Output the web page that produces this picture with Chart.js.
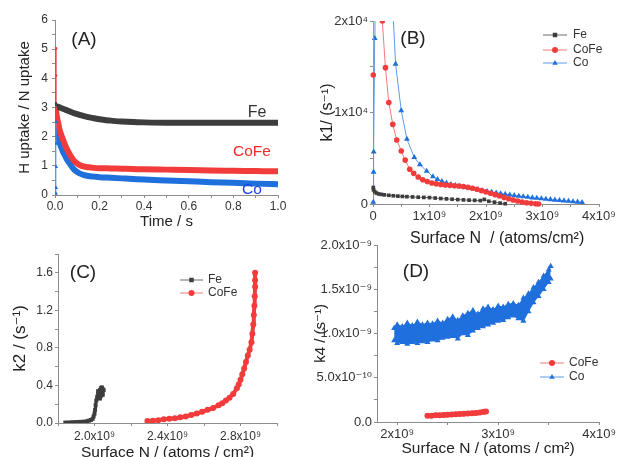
<!DOCTYPE html>
<html>
<head>
<meta charset="utf-8">
<script src="https://cdn.jsdelivr.net/npm/chart.js@4/dist/chart.umd.min.js"></script>
<style>
html, body { margin: 0; padding: 0; background: #fff; overflow: hidden; }
#wrap { position: relative; width: 618px; height: 457px; overflow: hidden; }
canvas { position: absolute; left: 0; top: 0; }
</style>
</head>
<body>
<div id="wrap">
  <canvas id="chartA" width="618" height="480"></canvas>
  <canvas id="chartB" width="618" height="480"></canvas>
  <canvas id="chartC" width="618" height="480"></canvas>
  <canvas id="chartD" width="618" height="480"></canvas>
</div>
<script>
// ---- (A) H uptake / N uptake vs time ----
var aTime  = [0.004, 0.007, 0.015, 0.022, 0.035, 0.045, 0.055, 0.067, 0.08, 0.097, 0.11, 0.127, 0.15, 0.175, 0.2, 0.25, 0.3, 0.35, 0.4, 0.5, 0.6, 0.7, 0.8, 0.9, 1.0];
var aFe    = [3.05, 3.04, 3.02, 3.0, 2.96, 2.93, 2.9, 2.86, 2.82, 2.78, 2.75, 2.71, 2.67, 2.63, 2.6, 2.55, 2.52, 2.5, 2.49, 2.48, 2.48, 2.48, 2.48, 2.48, 2.48];
var aCoFe  = [2.97, 2.75, 2.45, 2.2, 1.92, 1.72, 1.55, 1.38, 1.22, 1.09, 1.03, 0.98, 0.95, 0.93, 0.92, 0.91, 0.9, 0.89, 0.88, 0.87, 0.86, 0.84, 0.83, 0.82, 0.81];
var aCo    = [2.51, 2.2, 1.95, 1.75, 1.5, 1.35, 1.2, 1.07, 0.92, 0.8, 0.74, 0.69, 0.65, 0.63, 0.61, 0.59, 0.57, 0.55, 0.53, 0.5, 0.47, 0.44, 0.42, 0.39, 0.37];
// first points at t ~ 0
var aFeSpikeT = [0.004, 0.004];
var aFeSpike  = [3.05, 3.19];
var aCoFeSpikeT = [0.004, 0.004, 0.004];
var aCoFeSpike  = [2.97, 4.1, 5.03];
var aCoSpikeT = [0.004, 0.004, 0.004, 0.004, 0.004];
var aCoSpike  = [0.05, 0.25, 0.97, 1.77, 2.51];
var aXTicks = [0, 0.1, 0.2, 0.3, 0.4, 0.5, 0.6, 0.7, 0.8, 0.9, 1.0];
var aXLabels = ['0.0', '', '0.2', '', '0.4', '', '0.6', '', '0.8', '', '1.0'];
var aYTicks = [0, 0.5, 1, 1.5, 2, 2.5, 3, 3.5, 4, 4.5, 5, 5.5, 6];
var aYLabels = ['0', '', '1', '', '2', '', '3', '', '4', '', '5', '', '6'];

// ---- (B) k1 vs surface N (x in 10^9 atoms/cm2) ----
var bFeX = [0.005, 0.01, 0.03, 0.06, 0.1, 0.15, 0.2, 0.28, 0.36, 0.44, 0.52, 0.6, 0.7, 0.8, 0.9, 1.0, 1.1, 1.2, 1.3, 1.4, 1.5, 1.6, 1.7, 1.8, 1.9, 1.97, 2.05, 2.15, 2.25, 2.34];
var bFeY = [1800, 1550, 1350, 1200, 1100, 1050, 1000, 950, 900, 860, 830, 800, 770, 740, 720, 700, 650, 600, 560, 520, 480, 450, 420, 400, 370, 500, 300, 200, 100, 30];
var bCoFeX = [0.005, 0.01, 0.15, 0.165, 0.22, 0.28, 0.35, 0.42, 0.5, 0.57, 0.65, 0.72, 0.8, 0.88, 0.96, 1.04, 1.12, 1.2, 1.28, 1.36, 1.44, 1.52, 1.6, 1.68, 1.76, 1.84, 1.92, 2.0, 2.08, 2.16, 2.24, 2.32, 2.4, 2.48, 2.56, 2.64, 2.72, 2.8, 2.88, 2.93];
var bCoFeY = [14100, 40000, 25000, 20000, 14900, 11100, 8700, 7000, 5800, 4800, 3800, 3350, 2950, 2650, 2450, 2300, 2200, 2130, 2080, 2040, 2000, 1960, 1900, 1820, 1720, 1600, 1460, 1320, 1170, 1020, 870, 720, 570, 440, 320, 210, 130, 70, 25, 0];
var bCoX = [0.005, 0.01, 0.012, 0.03, 0.035, 0.35, 0.4, 0.5, 0.6, 0.73, 0.83, 0.95, 1.06, 1.14, 1.22, 1.3, 1.38, 1.46, 1.54, 1.62, 1.7, 1.78, 1.86, 1.94, 2.02, 2.1, 2.18, 2.26, 2.34, 2.42, 2.5, 2.58, 2.66, 2.74, 2.82, 2.9, 2.98, 3.06, 3.14, 3.22, 3.3, 3.38, 3.46, 3.54, 3.62, 3.7];
var bCoY = [200, 3500, 5700, 18100, 40000, 21500, 15300, 10200, 7100, 5100, 4300, 3600, 3000, 2700, 2480, 2300, 2150, 2030, 1920, 1830, 1740, 1650, 1560, 1470, 1380, 1300, 1220, 1140, 1070, 1000, 930, 870, 810, 750, 690, 640, 590, 540, 490, 440, 400, 360, 320, 270, 220, 180];
var bXTicks = [0, 0.5, 1, 1.5, 2, 2.5, 3, 3.5, 4];
var bXLabels = ['0', '', '1x10⁹', '', '2x10⁹', '', '3x10⁹', '', '4x10⁹'];
var bYTicks = [0, 5000, 10000, 15000, 20000];
var bYLabels = ['0', '', '1x10⁴', '', '2x10⁴'];

// ---- (C) k2 vs surface N (x in 10^9) ----
var cFeX = [1.84, 1.86, 1.88, 1.9, 1.92, 1.94, 1.96, 1.97, 1.98, 1.99, 1.995, 2.0, 2.003, 2.006, 2.01, 2.015, 2.02, 2.025, 2.03, 2.035, 2.04, 2.045, 2.04, 2.03, 2.02, 2.03, 2.045, 2.05, 2.04];
var cFeY = [0.005, 0.006, 0.008, 0.01, 0.012, 0.015, 0.02, 0.025, 0.032, 0.045, 0.07, 0.1, 0.14, 0.19, 0.24, 0.28, 0.31, 0.33, 0.35, 0.37, 0.38, 0.36, 0.32, 0.3, 0.34, 0.26, 0.3, 0.35, 0.37];
var cCoFeX = [2.29, 2.32, 2.35, 2.38, 2.41, 2.44, 2.47, 2.5, 2.53, 2.56, 2.59, 2.62, 2.65, 2.68, 2.7, 2.72, 2.74, 2.76, 2.78, 2.79, 2.8, 2.81, 2.82, 2.83, 2.84, 2.85, 2.86, 2.865, 2.87, 2.873, 2.876, 2.878, 2.88, 2.88, 2.88];
var cCoFeY = [0.02, 0.025, 0.03, 0.04, 0.045, 0.05, 0.06, 0.07, 0.085, 0.1, 0.12, 0.14, 0.16, 0.19, 0.21, 0.24, 0.27, 0.31, 0.37, 0.41, 0.46, 0.52, 0.58, 0.65, 0.72, 0.78, 0.86, 0.95, 1.05, 1.15, 1.25, 1.35, 1.45, 1.52, 1.6];
var cXTicks = [1.8, 2.0, 2.2, 2.4, 2.6, 2.8, 3.0];
var cXLabels = ['', '2.0x10⁹', '', '2.4x10⁹', '', '2.8x10⁹', ''];
var cYTicks = [0, 0.2, 0.4, 0.6, 0.8, 1.0, 1.2, 1.4, 1.6, 1.8];
var cYLabels = ['0.0', '', '0.4', '', '0.8', '', '1.2', '', '1.6', ''];

// ---- (D) k4 vs surface N (x in 10^9, y in 10^-9) ----
var dCoFeX = [2.3, 2.34, 2.38, 2.42, 2.46, 2.5, 2.54, 2.58, 2.62, 2.66, 2.7, 2.74, 2.78, 2.82, 2.86, 2.88];
var dCoFeY = [0.07, 0.072, 0.075, 0.075, 0.08, 0.082, 0.085, 0.088, 0.09, 0.093, 0.097, 0.1, 0.103, 0.107, 0.115, 0.12];
var dCoX = [1.97, 2.0, 2.05, 2.1, 2.15, 2.2, 2.25, 2.3, 2.35, 2.4, 2.45, 2.5, 2.55, 2.6, 2.65, 2.7, 2.75, 2.8, 2.85, 2.9, 2.95, 3.0, 3.05, 3.1, 3.15, 3.2, 3.25, 3.3, 3.35, 3.4, 3.45, 3.5, 3.52];
var dCoHigh = [1.06, 1.10, 1.08, 1.12, 1.09, 1.13, 1.10, 1.12, 1.11, 1.14, 1.12, 1.16, 1.19, 1.15, 1.20, 1.23, 1.26, 1.22, 1.28, 1.30, 1.27, 1.31, 1.30, 1.33, 1.34, 1.32, 1.40, 1.45, 1.52, 1.58, 1.65, 1.72, 1.76];
var dCoLow  = [0.92, 0.89, 0.90, 0.88, 0.90, 0.89, 0.91, 0.90, 0.93, 0.92, 0.95, 0.96, 0.97, 0.94, 1.00, 0.98, 1.03, 1.06, 1.08, 1.10, 1.12, 1.14, 1.15, 1.18, 1.20, 1.17, 1.14, 1.25, 1.35, 1.42, 1.50, 1.58, 1.62];
var dXTicks = [2, 2.5, 3, 3.5, 4];
var dXLabels = ['2x10⁹', '', '3x10⁹', '', '4x10⁹'];
var dYTicks = [0, 0.25, 0.5, 0.75, 1.0, 1.25, 1.5, 1.75, 2.0];
var dYLabels = ['0.0', '', '5.0x10⁻¹⁰', '', '1.0x10⁻⁹', '', '1.5x10⁻⁹', '', '2.0x10⁻⁹'];

var FONT = "'Liberation Sans', Arial, 'DejaVu Sans', sans-serif";
var GRAY = '#3d3d3d', RED = '#f23c3c', BLUE = '#1f6fdd';
var GRAYL = '#6a6a6a', REDL = '#f47a7a', BLUEL = '#5b9be8';
var AXIS = '#8c8c8c', TICK = '#333333';

function pts(xs, ys) {
  return xs.map(function (x, i) { return { x: x, y: ys[i] }; });
}

function makeAxis(o) {
  var left = o.pos === 'left';
  return {
    type: 'linear', position: o.pos, min: o.min, max: o.max,
    afterBuildTicks: function (s) { s.ticks = o.ticks.map(function (v) { return { value: v }; }); },
    afterFit: function (s) { if (left) s.width = o.size; else s.height = o.size; },
    border: { display: true, color: AXIS, width: 1 },
    grid: { display: true, drawOnChartArea: false, drawTicks: true, tickLength: 3, color: AXIS },
    ticks: {
      autoSkip: false, maxRotation: 0, minRotation: 0, padding: o.tickPad, color: TICK,
      font: { family: FONT, size: o.tickSize },
      callback: function (v, i) { return o.labels[i]; }
    },
    title: {
      display: true, text: o.title, color: '#222',
      font: { family: FONT, size: o.titleSize },
      padding: left ? { top: o.titlePad, bottom: 0 } : { top: 0, bottom: o.titlePad }
    }
  };
}

function drawMarker(ctx, style, x, y, r, color) {
  ctx.fillStyle = color;
  ctx.beginPath();
  if (style === 'rect') {
    ctx.rect(x - r * 0.75, y - r * 0.75, r * 1.5, r * 1.5);
  } else if (style === 'triangle') {
    ctx.moveTo(x, y - r);
    ctx.lineTo(x - r * 0.9, y + r * 0.6);
    ctx.lineTo(x + r * 0.9, y + r * 0.6);
    ctx.closePath();
  } else {
    ctx.arc(x, y, r, 0, Math.PI * 2);
  }
  ctx.fill();
}

// draws panel letters, curve names and the small legends
function annot(texts, legend) {
  return {
    id: 'annot',
    afterDraw: function (chart) {
      var ctx = chart.ctx;
      ctx.save();
      texts.forEach(function (t) {
        ctx.font = t.size + 'px ' + FONT;
        ctx.fillStyle = t.color;
        ctx.textAlign = 'center';
        ctx.textBaseline = 'middle';
        ctx.fillText(t.text, t.x, t.y);
      });
      if (legend) {
        legend.items.forEach(function (it) {
          ctx.strokeStyle = it.line;
          ctx.lineWidth = 1;
          ctx.beginPath();
          ctx.moveTo(legend.x1, it.y);
          ctx.lineTo(legend.x2, it.y);
          ctx.stroke();
          drawMarker(ctx, it.style, (legend.x1 + legend.x2) / 2, it.y, 3, it.color);
          ctx.font = '12px ' + FONT;
          ctx.fillStyle = TICK;
          ctx.textAlign = 'left';
          ctx.textBaseline = 'middle';
          ctx.fillText(it.label, legend.tx, it.y);
        });
      }
      ctx.restore();
    }
  };
}

function baseOptions(pad, scales) {
  return {
    responsive: false, animation: false, devicePixelRatio: 1,
    layout: { padding: pad },
    plugins: { legend: { display: false }, tooltip: { enabled: false } },
    scales: scales
  };
}

// ---------- (A) ----------
new Chart(document.getElementById('chartA'), {
  type: 'line',
  data: {
    datasets: [
      { data: pts(aFeSpikeT, aFeSpike), borderColor: GRAY, borderWidth: 2, pointRadius: 0 },
      { data: pts(aCoFeSpikeT, aCoFeSpike), borderColor: RED, borderWidth: 1.5, pointRadius: 1.5, pointBackgroundColor: RED, pointBorderWidth: 0 },
      { data: pts(aCoSpikeT, aCoSpike), borderColor: BLUEL, borderWidth: 1, pointStyle: 'triangle', pointRadius: 2.5, pointBackgroundColor: BLUE, pointBorderWidth: 0 },
      { data: pts(aTime, aFe), borderColor: GRAY, borderWidth: 6, pointRadius: 0, cubicInterpolationMode: 'monotone' },
      { data: pts(aTime, aCoFe), borderColor: RED, borderWidth: 6, pointRadius: 0, cubicInterpolationMode: 'monotone' },
      { data: pts(aTime, aCo), borderColor: BLUE, borderWidth: 6, pointRadius: 0, cubicInterpolationMode: 'monotone' }
    ]
  },
  options: baseOptions({ left: 0, right: 340, top: 20, bottom: 245 }, {
    x: makeAxis({ pos: 'bottom', min: 0, max: 1, ticks: aXTicks, labels: aXLabels, size: 40, tickPad: 1, tickSize: 12, title: 'Time / s', titleSize: 15, titlePad: 4 }),
    y: makeAxis({ pos: 'left', min: 0, max: 6, ticks: aYTicks, labels: aYLabels, size: 55, tickPad: 4, tickSize: 12, title: 'H uptake / N uptake', titleSize: 15, titlePad: 16 })
  }),
  plugins: [annot([
    { text: '(A)', x: 84, y: 40, size: 19, color: '#222' },
    { text: 'Fe', x: 257, y: 113, size: 16, color: '#333' },
    { text: 'CoFe', x: 252, y: 152, size: 15.5, color: '#ee2b2b' },
    { text: 'Co', x: 252, y: 190, size: 15.5, color: '#1c3fe6' }
  ])]
});

// ---------- (B) ----------
var clipB = { left: 5, right: 5, top: 0, bottom: 5 };
new Chart(document.getElementById('chartB'), {
  type: 'line',
  data: {
    datasets: [
      { data: pts(bFeX, bFeY), borderColor: GRAYL, borderWidth: 1, pointStyle: 'rect', pointRadius: 2.6, pointBackgroundColor: GRAY, pointBorderWidth: 0, clip: clipB },
      { data: pts(bCoFeX, bCoFeY), borderColor: REDL, borderWidth: 1, pointStyle: 'circle', pointRadius: 2.8, pointBackgroundColor: RED, pointBorderWidth: 0, clip: clipB },
      { data: pts(bCoX, bCoY), borderColor: BLUEL, borderWidth: 1, pointStyle: 'triangle', pointRadius: 3.4, pointBackgroundColor: BLUE, pointBorderWidth: 0, clip: clipB }
    ]
  },
  options: baseOptions({ left: 315, right: 19, top: 21, bottom: 231 }, {
    x: makeAxis({ pos: 'bottom', min: 0, max: 4, ticks: bXTicks, labels: bXLabels, size: 45, tickPad: 2, tickSize: 13, title: '     Surface N  / (atoms/cm²)', titleSize: 16, titlePad: 1 }),
    y: makeAxis({ pos: 'left', min: 0, max: 20000, ticks: bYTicks, labels: bYLabels, size: 58, tickPad: 2, tickSize: 13, title: 'k1/ (s⁻¹)', titleSize: 16, titlePad: 3 })
  }),
  plugins: [annot([
    { text: '(B)', x: 413, y: 39, size: 19, color: '#222' }
  ], {
    x1: 543, x2: 567, tx: 573,
    items: [
      { label: 'Fe', y: 35, line: GRAYL, color: GRAY, style: 'rect' },
      { label: 'CoFe', y: 50, line: REDL, color: RED, style: 'circle' },
      { label: 'Co', y: 63, line: BLUEL, color: BLUE, style: 'triangle' }
    ]
  })]
});

// ---------- (C) ----------
new Chart(document.getElementById('chartC'), {
  type: 'line',
  data: {
    datasets: [
      { data: pts(cFeX, cFeY), borderColor: GRAY, borderWidth: 3, borderJoinStyle: 'round', pointStyle: 'rect', pointRadius: 2.8, pointBackgroundColor: GRAY, pointBorderWidth: 0 },
      { data: pts(cCoFeX, cCoFeY), borderColor: RED, borderWidth: 4, borderJoinStyle: 'round', pointStyle: 'circle', pointRadius: 3, pointBackgroundColor: RED, pointBorderWidth: 0 }
    ]
  },
  options: baseOptions({ left: 0, right: 341, top: 254, bottom: 17 }, {
    x: makeAxis({ pos: 'bottom', min: 1.8, max: 3.0, ticks: cXTicks, labels: cXLabels, size: 40, tickPad: 3, tickSize: 12, title: 'Surface N / (atoms / cm²)', titleSize: 15.5, titlePad: 1 }),
    y: makeAxis({ pos: 'left', min: 0, max: 1.8, ticks: cYTicks, labels: cYLabels, size: 58, tickPad: 2, tickSize: 12, title: 'k2 / (s⁻¹)', titleSize: 17, titlePad: 10 })
  }),
  plugins: [annot([
    { text: '(C)', x: 83, y: 273, size: 19, color: '#222' }
  ], {
    x1: 180, x2: 203, tx: 208,
    items: [
      { label: 'Fe', y: 280, line: GRAYL, color: GRAY, style: 'rect' },
      { label: 'CoFe', y: 293, line: REDL, color: RED, style: 'circle' }
    ]
  })]
});

// ---------- (D) ----------
new Chart(document.getElementById('chartD'), {
  type: 'line',
  data: {
    datasets: [
      { data: pts(dCoFeX, dCoFeY), borderColor: RED, borderWidth: 5, pointStyle: 'circle', pointRadius: 3, pointBackgroundColor: RED, pointBorderWidth: 0 },
      { data: pts(dCoX, dCoHigh), borderColor: BLUE, borderWidth: 1, pointStyle: 'triangle', pointRadius: 3.5, pointBackgroundColor: BLUE, pointBorderWidth: 0, fill: false },
      { data: pts(dCoX, dCoLow), borderColor: BLUE, borderWidth: 1, pointStyle: 'triangle', pointRadius: 3.5, pointBackgroundColor: BLUE, pointBorderWidth: 0, fill: '-1', backgroundColor: BLUE }
    ]
  },
  options: baseOptions({ left: 310, right: 17, top: 245, bottom: 18 }, {
    x: makeAxis({ pos: 'bottom', min: 1.8, max: 4.0, ticks: dXTicks, labels: dXLabels, size: 40, tickPad: 2, tickSize: 13, title: 'Surface N / (atoms / cm²)', titleSize: 15.5, titlePad: 4 }),
    y: makeAxis({ pos: 'left', min: 0, max: 2.0, ticks: dYTicks, labels: dYLabels, size: 67, tickPad: 2, tickSize: 13, title: 'k4 / (s⁻¹)', titleSize: 15, titlePad: 2 })
  }),
  plugins: [annot([
    { text: '(D)', x: 416, y: 272, size: 19, color: '#222' }
  ], {
    x1: 540, x2: 564, tx: 569,
    items: [
      { label: 'CoFe', y: 363, line: REDL, color: RED, style: 'circle' },
      { label: 'Co', y: 377, line: BLUEL, color: BLUE, style: 'triangle' }
    ]
  })]
});
</script>
</body>
</html>
